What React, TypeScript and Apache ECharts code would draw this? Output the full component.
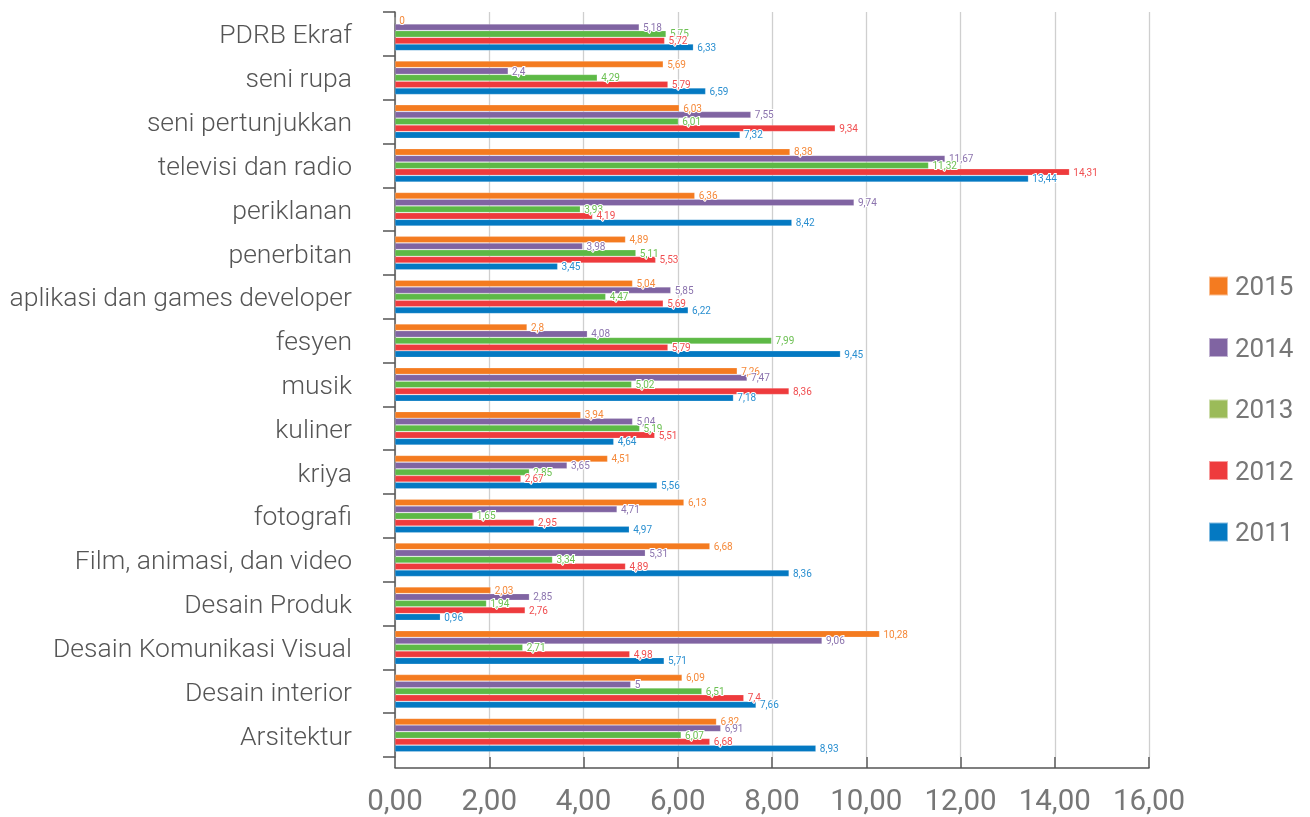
import React, { useEffect, useRef } from "react";
import * as echarts from "echarts";

const categories = [
  "PDRB Ekraf",
  "seni rupa",
  "seni pertunjukkan",
  "televisi dan radio",
  "periklanan",
  "penerbitan",
  "aplikasi dan games developer",
  "fesyen",
  "musik",
  "kuliner",
  "kriya",
  "fotografi",
  "Film, animasi, dan video",
  "Desain Produk",
  "Desain Komunikasi Visual",
  "Desain interior",
  "Arsitektur",
];

const years = ["2015", "2014", "2013", "2012", "2011"];

const v2015 = [0, 5.69, 6.03, 8.38, 6.36, 4.89, 5.04, 2.8, 7.26, 3.94, 4.51, 6.13, 6.68, 2.03, 10.28, 6.09, 6.82];
const v2014 = [5.18, 2.4, 7.55, 11.67, 9.74, 3.98, 5.85, 4.08, 7.47, 5.04, 3.65, 4.71, 5.31, 2.85, 9.06, 5, 6.91];
const v2013 = [5.75, 4.29, 6.01, 11.32, 3.93, 5.11, 4.47, 7.99, 5.02, 5.19, 2.85, 1.65, 3.34, 1.94, 2.71, 6.51, 6.07];
const v2012 = [5.72, 5.79, 9.34, 14.31, 4.19, 5.53, 5.69, 5.79, 8.36, 5.51, 2.67, 2.95, 4.89, 2.76, 4.98, 7.4, 6.68];
const v2011 = [6.33, 6.59, 7.32, 13.44, 8.42, 3.45, 6.22, 9.45, 7.18, 4.64, 5.56, 4.97, 8.36, 0.96, 5.71, 7.66, 8.93];

const seriesValues = [v2015, v2014, v2013, v2012, v2011];
const barColors = ["#F47B20", "#8064A2", "#5DB946", "#EE3B3D", "#0479C2"];
const labelColors = ["#F5893A", "#8C74AE", "#6CC052", "#F04E50", "#2A8FD0"];
const legendColors = ["#F47B20", "#8064A2", "#9BBB59", "#EE3B3D", "#0479C2"];

const xMin = 0;
const xMax = 16;
const xInterval = 2;

export default function App() {
  const ref = useRef<HTMLDivElement>(null);

  useEffect(() => {
    if (!ref.current) return;
    const chart = echarts.init(ref.current, null, { renderer: "svg" });
    const fmt = (v: number) => String(v).replace(".", ",");
    chart.setOption({
      animation: false,
      textStyle: { fontFamily: "Roboto" },
      grid: { left: 395, right: 161, top: 12, bottom: 60, containLabel: false },
      legend: {
        orient: "vertical",
        left: 1203,
        top: 268,
        itemWidth: 19,
        itemHeight: 19,
        itemGap: 35.5,
        icon: "rect",
        textStyle: { fontSize: 26, color: "#777", fontFamily: "Roboto", padding: [0, 0, 0, 2] },
        data: years.map((y, i) => ({ name: y, itemStyle: { color: legendColors[i] } })),
      },
      xAxis: {
        type: "value",
        min: xMin,
        max: xMax,
        interval: xInterval,
        offset: 11,
        axisLine: { show: true, lineStyle: { color: "#555", width: 1.5 } },
        axisTick: { show: true, inside: true, length: 11, lineStyle: { color: "#555", width: 1.5 } },
        splitLine: { show: true, lineStyle: { color: "#cfcfcf", width: 1.3 } },
        axisLabel: {
          fontSize: 29.5,
          color: "#777",
          fontFamily: "Roboto",
          margin: 17,
          formatter: (v: number) => v.toFixed(2).replace(".", ","),
        },
      },
      yAxis: {
        type: "category",
        inverse: true,
        data: categories,
        axisLine: { show: true, lineStyle: { color: "#555", width: 1.5 } },
        axisTick: { show: true, length: 12, lineStyle: { color: "#555", width: 1.5 } },
        axisLabel: {
          fontSize: 26.5,
          fontWeight: 300,
          color: "#555",
          fontFamily: "Roboto",
          margin: 43,
        },
      },
      series: years.map((y, i) => ({
        name: y,
        type: "bar",
        data: seriesValues[i],
        barWidth: 6.4,
        barGap: "5%",
        itemStyle: { color: barColors[i], borderColor: "rgba(255,255,255,0.5)", borderWidth: 0.4 },
        label: {
          show: true,
          position: "right",
          distance: 4,
          fontSize: 10,
          color: labelColors[i],
          fontFamily: "Roboto",
          textBorderColor: "#fff",
          textBorderWidth: 2,
          formatter: (p: any) => fmt(p.value),
        },
      })),
    });
    return () => chart.dispose();
  }, []);

  return (
    <div
      ref={ref}
      style={{ position: "fixed", left: 0, top: 0, width: 1310, height: 817 }}
    />
  );
}
